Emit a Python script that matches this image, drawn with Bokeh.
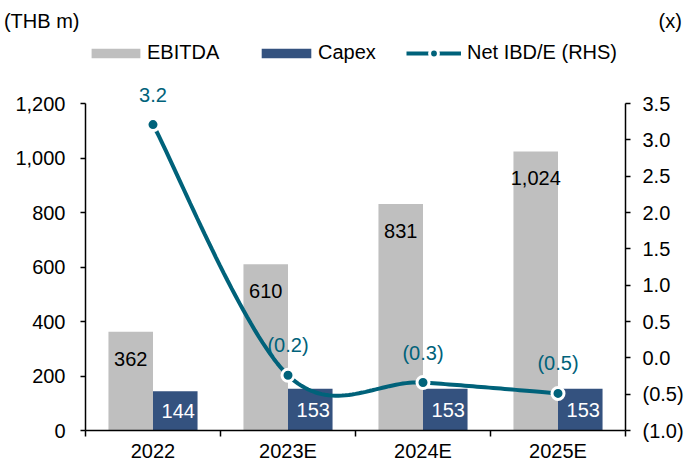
import numpy as np
from bokeh.plotting import figure
from bokeh.layouts import column
from bokeh.models import (Range1d, LinearAxis, FixedTicker, NumeralTickFormatter,
                          CustomJSTickFormatter, Legend, LegendItem, LabelSet,
                          ColumnDataSource)
from bokeh.core.properties import value
from bokeh.embed import file_html
from bokeh.resources import INLINE

# ---- data ----
categories = ["2022", "2023E", "2024E", "2025E"]
ebitda = [362, 610, 831, 1024]
capex = [144, 153, 153, 153]
net_ibd_e = [3.21, -0.24, -0.34, -0.49]
left_ticks = [0, 200, 400, 600, 800, 1000, 1200]
right_ticks = [-1.0, -0.5, 0.0, 0.5, 1.0, 1.5, 2.0, 2.5, 3.0, 3.5]
left_unit = "(THB m)"
right_unit = "(x)"

FONT = "Liberation Sans"
GREY = "#BFBFBF"
NAVY = "#34527F"
TEAL = "#00627A"

# ---- layout constants (pixels) ----
W = 689
HEADER_H = 40
MAIN_H = 465 - HEADER_H
AXIS_TOP_PAD = 63      # space inside the frame above the axis maximum
AXIS_SPAN = 327        # pixel length of the value axes
FRAME_H = AXIS_TOP_PAD + AXIS_SPAN
BORDER_L, BORDER_R = 82, 64

n = len(categories)
centers = np.arange(n) + 0.5
bar_w = 0.33

def extended_end(lo, hi):
    return hi + (hi - lo) * AXIS_TOP_PAD / AXIS_SPAN

# ---- header holding the unit captions (as horizontal axis labels) ----
header = figure(width=W, height=HEADER_H, output_backend="svg", toolbar_location=None,
                x_range=Range1d(0, 1), y_range=Range1d(0, 1),
                x_axis_location=None, y_axis_location=None,
                min_border_left=BORDER_L, min_border_right=BORDER_R,
                min_border_top=0, min_border_bottom=0)
header.grid.visible = False
header.outline_line_color = None
for side, txt, standoff in [("left", left_unit, 6), ("right", right_unit, 33)]:
    ax = LinearAxis(ticker=FixedTicker(ticks=[]), axis_label=txt,
                    axis_label_orientation="horizontal",
                    axis_label_standoff=standoff,
                    axis_label_text_font=FONT, axis_label_text_font_size="20px",
                    axis_label_text_font_style="normal",
                    axis_label_text_color="black",
                    axis_line_color=None, major_tick_line_color=None,
                    minor_tick_line_color=None, major_tick_out=0, major_tick_in=0,
                    major_label_standoff=0)
    header.add_layout(ax, side)

# ---- main chart ----
p = figure(width=W, height=MAIN_H, output_backend="svg", toolbar_location=None,
           x_range=Range1d(0, n),
           y_range=Range1d(left_ticks[0], extended_end(left_ticks[0], left_ticks[-1])),
           min_border_left=BORDER_L, min_border_right=BORDER_R,
           min_border_top=0, min_border_bottom=35)
p.extra_y_ranges = {"rhs": Range1d(right_ticks[0], extended_end(right_ticks[0], right_ticks[-1]))}
p.grid.visible = False
p.outline_line_color = None
p.background_fill_color = "white"
p.border_fill_color = "white"

xa = p.xaxis[0]
xa.ticker = FixedTicker(ticks=list(centers), minor_ticks=list(range(n + 1)))
xa.formatter = CustomJSTickFormatter(args=dict(cats=categories),
                                     code="return cats[Math.floor(tick)];")
xa.major_tick_out = 0
xa.major_tick_in = 0
xa.minor_tick_out = 6
xa.minor_tick_in = 0
xa.minor_tick_line_color = "black"
xa.minor_tick_line_width = 1.5
xa.major_label_standoff = 3

ya = p.yaxis[0]
ya.ticker = FixedTicker(ticks=left_ticks)
ya.formatter = NumeralTickFormatter(format="0,0")
ya.bounds = (left_ticks[0], left_ticks[-1])
ya.major_tick_out = 5
ya.major_tick_in = 0
ya.minor_tick_line_color = None
ya.major_label_standoff = 15

ra = LinearAxis(y_range_name="rhs", ticker=FixedTicker(ticks=right_ticks),
                bounds=(right_ticks[0], right_ticks[-1]),
                formatter=CustomJSTickFormatter(
                    code="return tick < 0 ? '(' + Math.abs(tick).toFixed(1) + ')' : tick.toFixed(1);"))
ra.major_tick_out = 5
ra.major_tick_in = 0
ra.minor_tick_line_color = None
ra.major_label_standoff = 12
p.add_layout(ra, "right")

for ax in [xa, ya, ra]:
    ax.axis_line_color = "black"
    ax.axis_line_width = 1.5
    ax.major_tick_line_color = "black"
    ax.major_tick_line_width = 1.5
    ax.major_label_text_font = FONT
    ax.major_label_text_font_size = "20px"
    ax.major_label_text_color = "black"

src = ColumnDataSource(dict(
    xe=centers - bar_w / 2, xc=centers + bar_w / 2, xn=centers,
    ebitda=ebitda, capex=capex, capex_half=[v / 2 for v in capex],
    net=net_ibd_e,
    ebitda_txt=[f"{v:,}" for v in ebitda],
    capex_txt=[f"{v:,}" for v in capex],
    net_txt=[f"{v:.1f}" if v >= 0 else f"({abs(v):.1f})" for v in net_ibd_e],
))

r_e = p.vbar(x="xe", top="ebitda", width=bar_w, bottom=0, source=src,
             fill_color=GREY, line_color=None)
r_c = p.vbar(x="xc", top="capex", width=bar_w, bottom=0, source=src,
             fill_color=NAVY, line_color=None)

p.text(x="xe", y="ebitda", text="ebitda_txt", source=src, text_font=value(FONT),
       text_font_size="20px", text_color="black", text_align="center",
       text_baseline="middle", y_offset=27)
p.text(x="xc", y="capex_half", text="capex_txt", source=src, text_font=value(FONT),
       text_font_size="20px", text_color="white", text_align="center",
       text_baseline="middle", x_offset=3)

def smooth(xs, ys, steps=40):
    pts = list(zip(xs, ys))
    ox, oy = [], []
    m = len(pts)
    for i in range(m - 1):
        p0 = pts[i - 1] if i > 0 else pts[i]
        p1 = pts[i]
        p2 = pts[i + 1]
        p3 = pts[i + 2] if i + 2 < m else pts[i + 1]
        c1 = (p1[0] + (p2[0] - p0[0]) / 6, p1[1] + (p2[1] - p0[1]) / 6)
        c2 = (p2[0] - (p3[0] - p1[0]) / 6, p2[1] - (p3[1] - p1[1]) / 6)
        ts = np.linspace(0, 1, steps, endpoint=(i == m - 2))
        for t in ts:
            a = (1 - t) ** 3
            b = 3 * (1 - t) ** 2 * t
            c = 3 * (1 - t) * t ** 2
            d = t ** 3
            ox.append(a * p1[0] + b * c1[0] + c * c2[0] + d * p2[0])
            oy.append(a * p1[1] + b * c1[1] + c * c2[1] + d * p2[1])
    return ox, oy

sx, sy = smooth(list(centers), net_ibd_e)
r_l = p.line(sx, sy, y_range_name="rhs", line_color=TEAL, line_width=4)
r_m = p.scatter(x="xn", y="net", source=src, y_range_name="rhs", size=12,
                fill_color=TEAL, line_color="white", line_width=3)
p.add_layout(LabelSet(x="xn", y="net", text="net_txt", source=src, y_range_name="rhs",
                      text_font=value(FONT), text_font_size="20px", text_color=TEAL,
                      text_align="center", text_baseline="middle", y_offset=30))

LEGEND_Y = FRAME_H - 24
def make_legend(label, renderers, vx, gw, gh, standoff, dy=0):
    lg = Legend(items=[LegendItem(label=label, renderers=renderers)],
                location=(vx, LEGEND_Y + dy), orientation="horizontal",
                padding=0, margin=0, spacing=0,
                glyph_width=gw, glyph_height=gh, label_standoff=standoff,
                label_text_font=FONT, label_text_font_size="20px",
                label_text_color="black",
                border_line_color=None, background_fill_alpha=0)
    p.add_layout(lg, "center")

make_legend("EBITDA", [r_e], 0, 61, 12, 1)
make_legend("Capex", [r_c], 170, 62, 12, 1)
make_legend("Net IBD/E (RHS)", [r_l, r_m], 321, 55, 22, 6, dy=0)

layout = column(header, p, spacing=0)
open("out.html", "w").write(file_html(layout, INLINE))
